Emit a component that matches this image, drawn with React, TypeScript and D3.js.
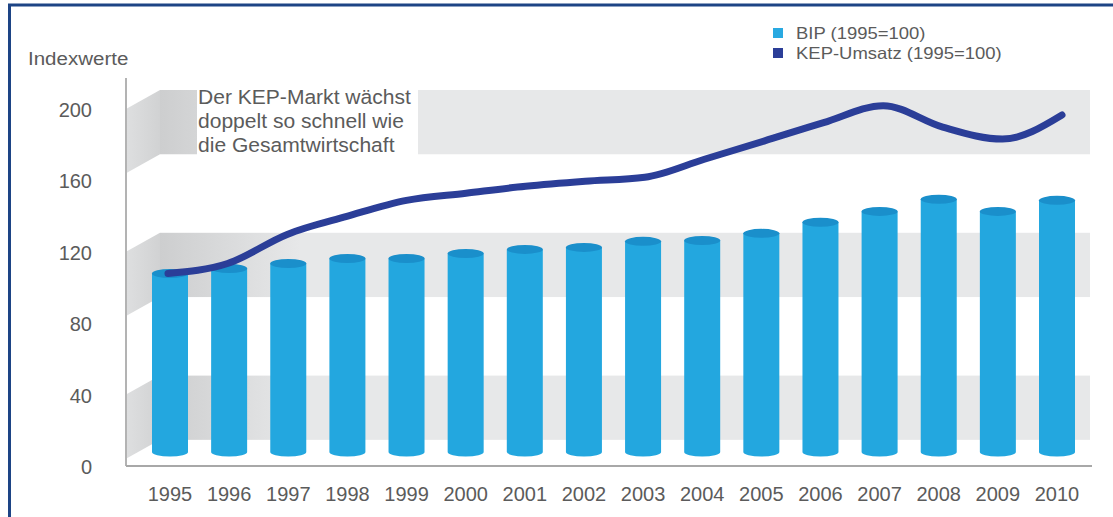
import React from 'react';
import * as d3 from 'd3';

const years = ['1995','1996','1997','1998','1999','2000','2001','2002','2003','2004','2005','2006','2007','2008','2009','2010'];
const bipValues = [100, 102.8, 105.6, 108.4, 108.4, 111.2, 113.5, 114.6, 118, 118.5, 122.5, 128.7, 134.8, 141.6, 134.8, 141];
const kepValues = [100, 105.6, 121.9, 132, 141, 145, 148.9, 151.7, 153.9, 164, 174.2, 184.5, 194, 182, 175.3, 188.8];
const yTicks = [0, 40, 80, 120, 160, 200];
const bandRanges: [number, number][] = [[4, 40], [84, 120], [164, 200]];
const annotationLines = ['Der KEP-Markt wächst', 'doppelt so schnell wie', 'die Gesamtwirtschaft'];
const legendLabels = ['BIP (1995=100)', 'KEP-Umsatz (1995=100)'];
const axisTitle = 'Indexwerte';

const W = 1113;
const H = 517;
const FONT = '"Liberation Sans", Arial, Helvetica, sans-serif';
const TEXT = '#5b5b5b';
const BAR = '#23a7df';
const BAR_TOP = '#1a8fcb';
const LINE = '#2b3e98';

export default function App() {
  const frontLeft = 126, frontRight = 1092, backLeft = 160, backRight = 1090;
  const depthX = 34, depthY = -19;
  const barDepthY = -14;

  const yFront = d3.scaleLinear().domain([0, 200]).range([466, 109]);
  const yBack = (v: number) => yFront(v) + depthY;
  const yBar = (v: number) => yFront(v) + barDepthY;
  const xBar = d3.scalePoint<string>().domain(years).range([170, 1057]);
  const xLine = d3.scalePoint<string>().domain(years).range([168, 1062]);

  const rx = 18, ry = 4.5;
  const base = yBar(0);

  const linePath = d3.line<number>()
    .x((_, i) => xLine(years[i]) as number)
    .y((d) => yBar(d))
    .curve(d3.curveMonotoneX)(kepValues) as string;

  return (
    <svg width={W} height={H} style={{ position: 'absolute', left: 0, top: 0, background: '#fff' }}>
      <defs>
        <linearGradient id="sideGrad" gradientUnits="userSpaceOnUse" x1={frontLeft} x2={backLeft + 20} y1={0} y2={0}>
          <stop offset="0" stopColor="#dedfe0" />
          <stop offset="1" stopColor="#c9cacb" />
        </linearGradient>
        <linearGradient id="backGrad" gradientUnits="userSpaceOnUse" x1={backLeft} x2={backLeft + 140} y1={0} y2={0}>
          <stop offset="0" stopColor="#cdcecf" />
          <stop offset="1" stopColor="#e7e8e9" />
        </linearGradient>
      </defs>
      <rect x={0} y={0} width={W} height={H} fill="#fff" />

      {/* back wall bands */}
      {bandRanges.map(([lo, hi], i) => (
        <rect key={'b' + i} x={backLeft} y={yBack(hi)} width={backRight - backLeft} height={yBack(lo) - yBack(hi)} fill="url(#backGrad)" />
      ))}
      {/* side wall bands */}
      {bandRanges.map(([lo, hi], i) => (
        <polygon key={'s' + i}
          points={`${frontLeft},${yFront(hi)} ${frontLeft + depthX},${yFront(hi) + depthY} ${frontLeft + depthX},${yFront(lo) + depthY} ${frontLeft},${yFront(lo)}`}
          fill="url(#sideGrad)" />
      ))}

      {/* annotation box */}
      <rect x={197} y={yBack(200) - 2} width={221} height={yBack(164) - yBack(200) + 4} fill="#fff" />
      {annotationLines.map((t, i) => (
        <text key={'a' + i} transform={`translate(198,${104 + i * 24}) scale(1.08,1)`} fontFamily={FONT} fontSize={19.5} fill={TEXT}>{t}</text>
      ))}

      {/* axes */}
      <line x1={frontLeft} x2={frontLeft} y1={78} y2={yFront(0)} stroke="#b3b3b3" strokeWidth={2} />
      <line x1={frontLeft} x2={frontRight} y1={yFront(0)} y2={yFront(0)} stroke="#a8a8a8" strokeWidth={2} />

      {/* y tick labels */}
      {yTicks.map((v) => (
        <text key={'t' + v} x={92} y={yFront(v) + 1} dy="0.35em" textAnchor="end" fontFamily={FONT} fontSize={20} fill={TEXT}>{v}</text>
      ))}
      <text transform="translate(28,58) scale(1.08,1)" dy="0.35em" fontFamily={FONT} fontSize={19} fill={TEXT}>{axisTitle}</text>

      {/* cylinders */}
      {bipValues.map((v, i) => {
        const cx = xBar(years[i]) as number;
        const top = yBar(v);
        return (
          <g key={'c' + i}>
            <path d={`M${cx - rx},${top} L${cx - rx},${base} A${rx},${ry} 0 0 0 ${cx + rx},${base} L${cx + rx},${top} Z`} fill={BAR} />
            <ellipse cx={cx} cy={top} rx={rx} ry={ry} fill={BAR_TOP} />
          </g>
        );
      })}

      {/* KEP line */}
      <path d={linePath} fill="none" stroke={LINE} strokeWidth={7} strokeLinecap="round" strokeLinejoin="round" />

      {/* year labels */}
      {years.map((y) => (
        <text key={'y' + y} x={xBar(y) as number} y={494} dy="0.35em" textAnchor="middle" fontFamily={FONT} fontSize={20} fill={TEXT}>{y}</text>
      ))}

      {/* legend */}
      {legendLabels.map((t, i) => (
        <g key={'l' + i}>
          <rect x={773} y={28 + i * 20} width={10} height={10} fill={i === 0 ? '#29a9e1' : LINE} />
          <text transform={`translate(796,${33 + i * 20}) scale(1.12,1)`} dy="0.35em" fontFamily={FONT} fontSize={16.5} fill={TEXT}>{t}</text>
        </g>
      ))}

      {/* frame */}
      <line x1={8} x2={W} y1={5} y2={5} stroke="#1d4485" strokeWidth={3} />
      <line x1={9.5} x2={9.5} y1={4} y2={H} stroke="#1d4485" strokeWidth={3} />
    </svg>
  );
}
